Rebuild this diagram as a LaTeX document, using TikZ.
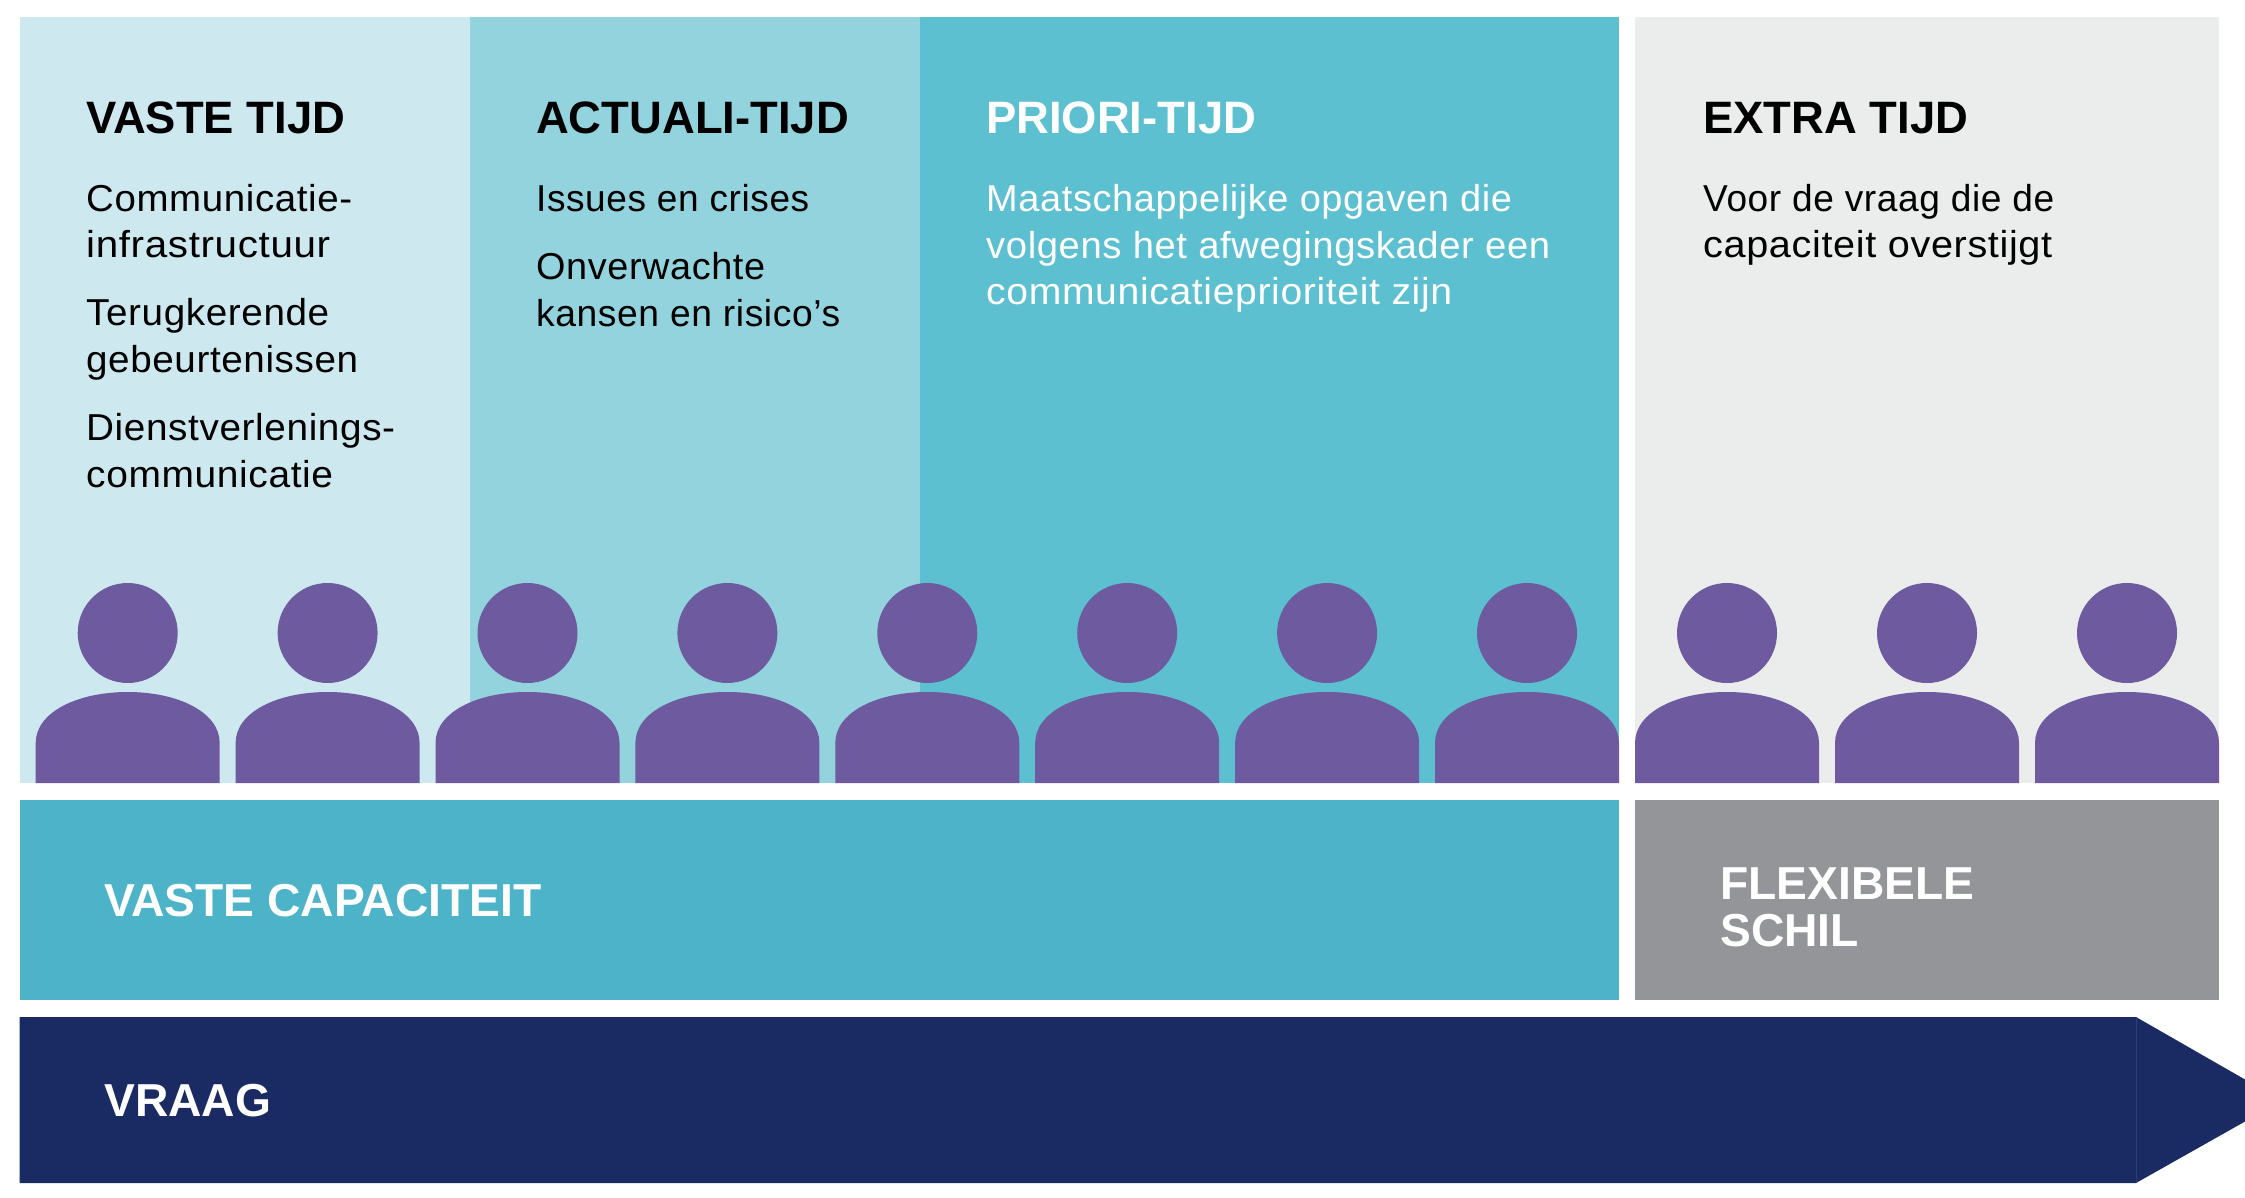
\documentclass[tikz,border=0pt]{standalone}
\usepackage{fontspec}
\usepackage{graphicx}
\setmainfont{Liberation Sans}
\newfontfamily\bodyfont{Liberation Sans}[LetterSpace=1.6]
\newcommand{\fitline}[2]{\resizebox{#1pt}{\height}{#2}}
\definecolor{cLight}{HTML}{CDE9EF}
\definecolor{cMid}{HTML}{93D3DD}
\definecolor{cTeal}{HTML}{5CC0D0}
\definecolor{cExtra}{HTML}{EBECEC}
\definecolor{cPerson}{HTML}{6E5A9E}
\definecolor{cBar}{HTML}{4CB3C9}
\definecolor{cGrey}{HTML}{939598}
\definecolor{cNavy}{HTML}{1A2B63}
\definecolor{cSeam}{HTML}{2C3E7C}
\tikzset{
  heading/.style={anchor=base west,inner sep=0pt,font=\fontsize{45.4}{45.4}\selectfont\bfseries},
  bodytext/.style={anchor=base west,inner sep=0pt,align=left,font=\fontsize{37.5}{46.5}\selectfont\bodyfont},
  bartext/.style={anchor=base west,inner sep=0pt,align=left,text=white,font=\fontsize{46.2}{47}\selectfont\bfseries},
  person/.pic={
    \fill[cPerson] (0,-150) circle (50);
    \fill[cPerson] (-92,0) -- (-92,-40) .. controls (-92,-71) and (-50,-91) .. (0,-91)
       .. controls (50,-91) and (92,-71) .. (92,-40) -- (92,0) -- cycle;
  }
}
\begin{document}
\begin{tikzpicture}[x=1pt,y=-1pt]
\useasboundingbox (0,0) rectangle (2245,1198);
% panels
\fill[cLight] (19.5,17) rectangle (470,783);
\fill[cMid] (470,17) rectangle (920,783);
\fill[cTeal] (920,17) rectangle (1619,783);
\fill[cExtra] (1635,17) rectangle (2219,783);
% people
\foreach \cx in {127.7,327.6,527.5,727.4,927.3,1127.2,1327.1,1527,1727,1927,2127}
  \pic at (\cx,783) {person};
% bars
\fill[cBar] (19.5,800) rectangle (1619,1000);
\fill[cGrey] (1635,800) rectangle (2219,1000);
\fill[cNavy] (19.5,1017) -- (2136,1017) -- (2245,1079.5) -- (2245,1121.5) -- (2136,1183) -- (19.5,1183) -- cycle;
\draw[cSeam,line width=0.8pt] (2136,1017) -- (2136,1183);
% column texts
\node[heading] (h1) at (86,134) {VASTE TIJD};
\node[bodytext] (b1a) at (86,258) {\fitline{266}{Communicatie-}\\\fitline{244}{infrastructuur}};
\node[bodytext] (b1b) at (86,372) {\fitline{243}{Terugkerende}\\\fitline{272}{gebeurtenissen}};
\node[bodytext] (b1c) at (86,487) {\fitline{309}{Dienstverlenings-}\\\fitline{247}{communicatie}};
\node[heading] (h2) at (536,134) {ACTUALI-TIJD};
\node[bodytext] (b2a) at (536,212) {\fitline{273}{Issues en crises}};
\node[bodytext] (b2b) at (536,326) {\fitline{229}{Onverwachte}\\\fitline{304}{kansen en risico’s}};
\node[heading,text=white] (h3) at (986,134) {PRIORI-TIJD};
\node[bodytext,text=white] (b3) at (986,305) {\fitline{526}{Maatschappelijke opgaven die}\\\fitline{564}{volgens het afwegingskader een}\\\fitline{466}{communicatieprioriteit zijn}};
\node[heading] (h4) at (1703,134) {EXTRA TIJD};
\node[bodytext] (b4) at (1703,258) {\fitline{351}{Voor de vraag die de}\\\fitline{349}{capaciteit overstijgt}};
% bar texts
\node[bartext] (t1) at (104,916) {VASTE CAPACITEIT};
\node[bartext] (t2) at (1720,946) {FLEXIBELE\\SCHIL};
\node[bartext] (t3) at (104,1116) {VRAAG};
\end{tikzpicture}
\end{document}
